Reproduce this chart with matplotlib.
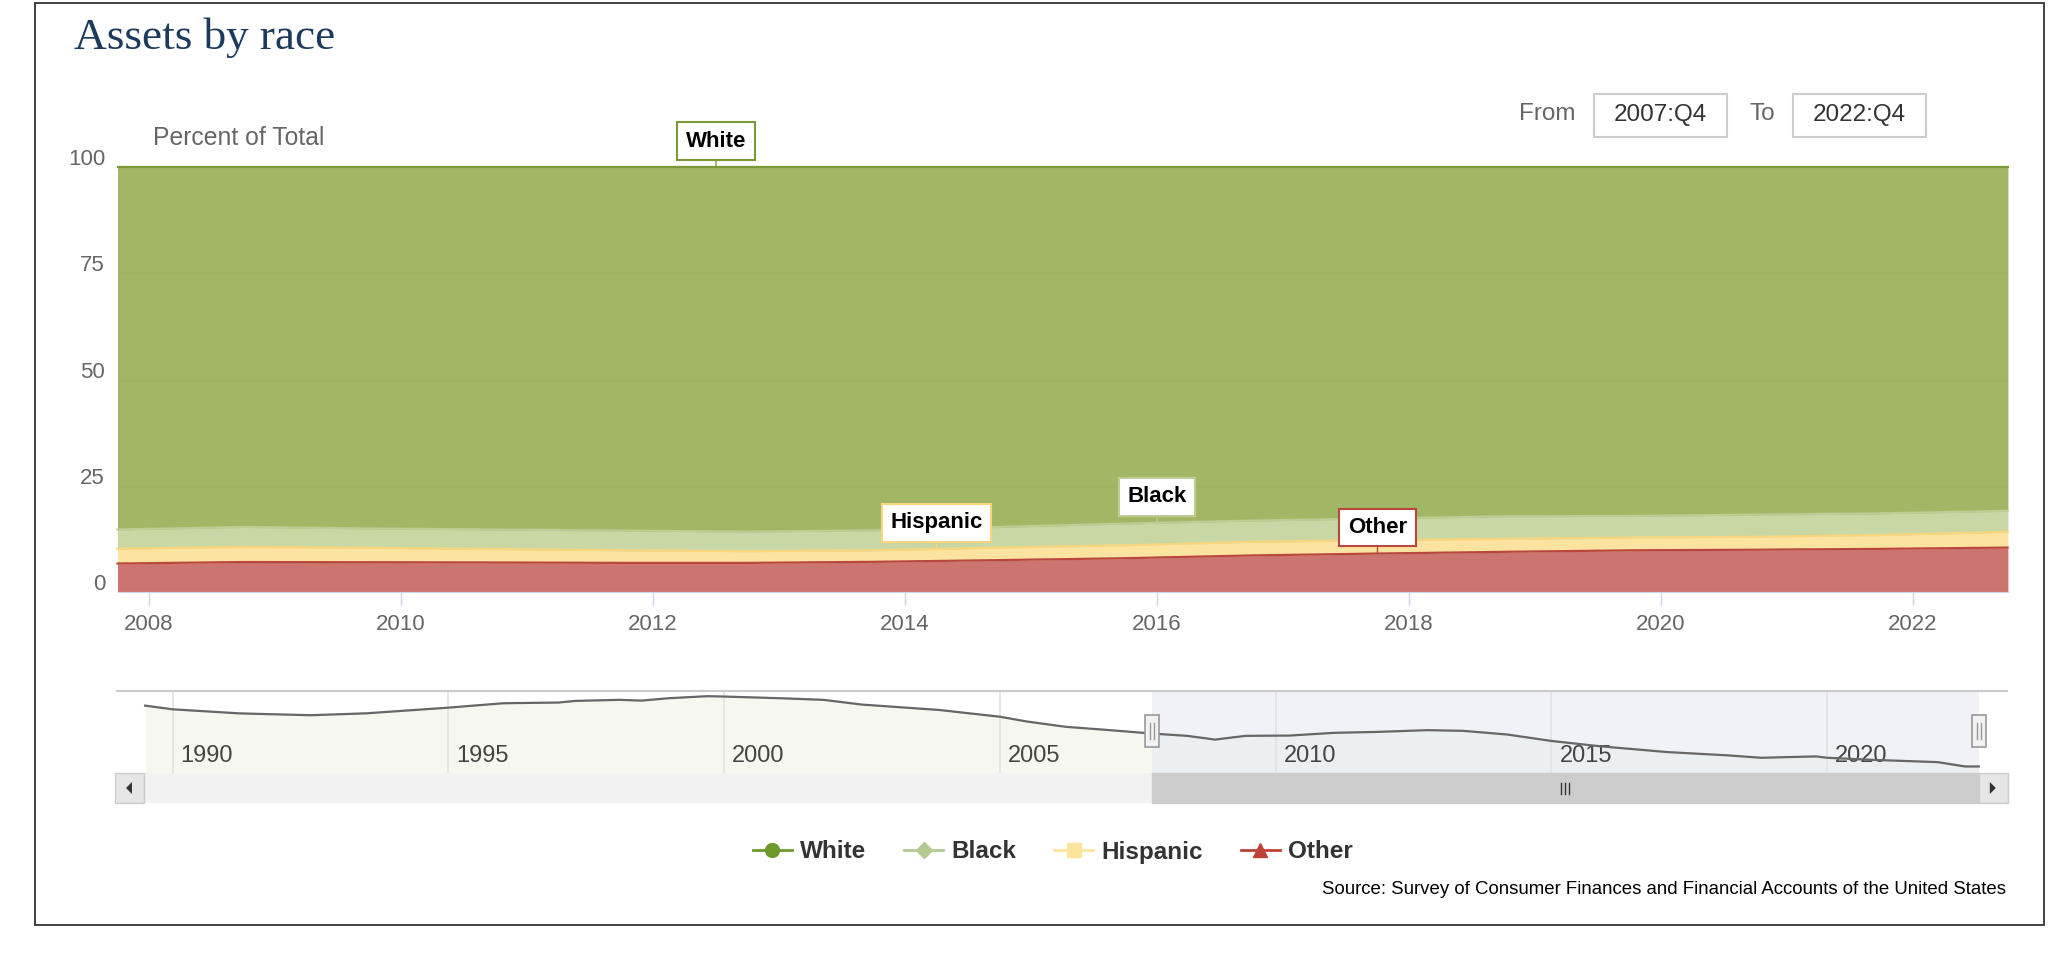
import numpy as np
import matplotlib
matplotlib.use("Agg")
import matplotlib.pyplot as plt
from matplotlib.patches import Rectangle, Polygon
from matplotlib.lines import Line2D

# ---- data (percent of total assets, quarter dates as decimal years) ----
dates = [2007.75, 2008.75, 2009.75, 2010.75, 2011.75, 2012.75, 2013.75, 2014.75,
         2015.75, 2016.75, 2017.75, 2018.75, 2019.75, 2020.75, 2021.75, 2022.75]
white = [85.3, 84.7, 85.05, 85.3, 85.55, 85.8, 85.5, 84.7,
         83.9, 83.2, 82.7, 82.2, 82.1, 81.8, 81.5, 80.9]
black = [4.5, 4.7, 4.55, 4.6, 4.65, 4.6, 4.7, 4.85,
         5.1, 5.0, 5.1, 5.3, 5.1, 5.2, 5.1, 4.95]
hispanic = [3.5, 3.55, 3.4, 3.15, 2.95, 2.75, 2.7, 2.95,
            3.05, 3.2, 3.15, 3.05, 3.0, 3.05, 3.25, 3.7]
other = [6.7, 7.05, 7.0, 6.95, 6.85, 6.85, 7.1, 7.5,
         7.95, 8.6, 9.05, 9.45, 9.8, 9.95, 10.15, 10.45]

# navigator series (White share, full history)
nav_dates = [1989.5, 1990.0, 1991.2, 1992.5, 1993.5, 1995.0, 1996.0, 1997.0, 1997.3,
             1998.1, 1998.5, 1999.0, 1999.7, 2000.0, 2001.0, 2001.8, 2002.5, 2003.9,
             2005.0, 2005.5, 2006.2, 2007.0, 2007.75, 2008.4, 2008.9, 2009.45, 2010.25,
             2011.05, 2011.85, 2012.75, 2013.4, 2014.2, 2015.0, 2015.9, 2017.1, 2018.2,
             2018.8, 2019.8, 2020.0, 2020.8, 2022.0, 2022.5, 2022.75]
nav_white = [89.03, 88.54, 88.0, 87.75, 88.0, 88.76, 89.35, 89.44, 89.66,
             89.8, 89.7, 90.02, 90.29, 90.24, 90.02, 89.8, 89.17, 88.45,
             87.55, 86.9, 86.2, 85.76, 85.31, 85.0, 84.5, 85.0, 85.04,
             85.4, 85.53, 85.76, 85.67, 85.18, 84.32, 83.6, 82.84, 82.4,
             82.08, 82.26, 82.08, 81.81, 81.5, 80.92, 80.92]

names = ["Other", "Hispanic", "Black", "White"]
fills = ["#cc7470", "#fde3a0", "#c9d7a5", "#a2b765"]
edges = ["#b9473f", "#f8d67e", "#bccd95", "#7a9836"]
legend_colors = {"White": "#6e9a2c", "Black": "#b5c993", "Hispanic": "#fde49c", "Other": "#c0413a"}
legend_markers = {"White": "o", "Black": "D", "Hispanic": "s", "Other": "^"}
label_points = {"White": 2012.5, "Hispanic": 2014.25, "Black": 2016.0, "Other": 2017.75}

W, H = 2048, 960
plt.rcParams["font.family"] = ["Liberation Sans", "DejaVu Sans"]


def frac_box(x0, y0, x1, y1):
    return [x0 / W, 1 - y1 / H, (x1 - x0) / W, (y1 - y0) / H]


fig = plt.figure(figsize=(W / 100, H / 100), dpi=100)

# overlay in pixel coordinates for the page chrome
ui = fig.add_axes([0, 0, 1, 1])
ui.set_xlim(0, W)
ui.set_ylim(H, 0)
ui.axis("off")
ui.add_patch(Rectangle((35, 3), 2009, 922, fill=False, ec="#333333", lw=1.3))
ui.text(74, 38, "Assets by race", fontfamily="Liberation Serif", fontsize=32.5,
        color="#1c3a5e", va="center", ha="left")
ui.text(153, 138, "Percent of Total", fontsize=17.8, color="#666666", va="center")

ui.text(1519, 114, "From", fontsize=17.5, color="#666666", va="center")
ui.add_patch(Rectangle((1594, 94), 133, 43, fc="white", ec="#cccccc", lw=1.5))
ui.text(1660.5, 115, "2007:Q4", fontsize=17.5, color="#333333", va="center", ha="center")
ui.text(1750, 114, "To", fontsize=17.5, color="#666666", va="center")
ui.add_patch(Rectangle((1793, 94), 133, 43, fc="white", ec="#cccccc", lw=1.5))
ui.text(1859.5, 115, "2022:Q4", fontsize=17.5, color="#333333", va="center", ha="center")

# ---- main stacked area chart ----
ax = fig.add_axes(frac_box(117.5, 167, 2007.5, 592))
vals = np.vstack([other, hispanic, black, white])
shares = vals / vals.sum(axis=0) * 100
tops = np.cumsum(shares, axis=0)
base = np.zeros(len(dates))
for top, fc, ec in zip(tops, fills, edges):
    ax.fill_between(dates, base, top, color=fc, lw=0.6, ec=fc, zorder=1)
    ax.plot(dates, top, color=ec, lw=1.6, zorder=4, clip_on=False)
    base = top

for yv in (25, 50, 75):
    ax.axhline(yv, color="black", alpha=0.025, lw=2, zorder=2)

ax.set_xlim(2007.75, 2022.75)
ax.set_ylim(0, 100)
ax.set_xticks(range(2008, 2023, 2))
ax.set_yticks([0, 25, 50, 75, 100])
for s in ("top", "right", "left"):
    ax.spines[s].set_visible(False)
ax.spines["bottom"].set_color("#ccd6eb")
ax.tick_params(axis="x", length=9, color="#ccd6eb", width=1, pad=7,
               labelsize=16, labelcolor="#666666")
ax.tick_params(axis="y", length=0, pad=9, labelsize=16, labelcolor="#666666")
for lab in ax.get_yticklabels():
    lab.set_transform(lab.get_transform() +
                      matplotlib.transforms.ScaledTranslation(0, 0.10, fig.dpi_scale_trans))

for name, xv in label_points.items():
    i = names.index(name)
    yv = np.interp(xv, dates, tops[i])
    ax.annotate(name, xy=(xv, yv), xytext=(0, 26), textcoords="offset pixels",
                ha="center", va="center", fontsize=16, fontweight="bold", color="black",
                bbox=dict(boxstyle="square,pad=0.38", fc="white", ec=edges[i], lw=1.5),
                arrowprops=dict(arrowstyle="-", color=edges[i], lw=1, shrinkA=0, shrinkB=0),
                zorder=6, annotation_clip=False)

# ---- navigator ----
nav = fig.add_axes(frac_box(117.5, 691, 2007.5, 773))
nav.set_xlim(1989.0, 2023.27)
nav.set_ylim(80.05, 90.98)
nav.fill_between(nav_dates, nav_white, 80.05, color="#f6f7ef", lw=0, zorder=1)
nav.axvspan(2007.75, 2022.75, color="#e4e9f3", alpha=0.55, lw=0, zorder=2)
for yr in range(1990, 2021, 5):
    nav.axvline(yr, color="#e2e2e2", lw=1.2, zorder=2.5)
    nav.annotate(str(yr), xy=(yr, 0), xycoords=("data", "axes fraction"),
                 xytext=(8, 17), textcoords="offset pixels", va="center", ha="left",
                 fontsize=17, color="#444444", zorder=3)
nav.plot(nav_dates, nav_white, color="#666666", lw=1.6, zorder=4)
nav.set_xticks([])
nav.set_yticks([])
for s in ("bottom", "right", "left"):
    nav.spines[s].set_visible(False)
nav.spines["top"].set_color("#cccccc")
nav.spines["top"].set_linewidth(1.5)

# pixel positions of the selected range
x_from = nav.transData.transform((2007.75, 85))[0]
x_to = nav.transData.transform((2022.75, 85))[0]

# scrollbar
ui.add_patch(Rectangle((115, 773), 1892, 30, fc="#f2f2f2", ec="none", zorder=1))
ui.add_patch(Rectangle((x_from, 773), x_to - x_from, 30, fc="#cccccc", ec="#cccccc", zorder=2))
for bx in (115, x_to):
    ui.add_patch(Rectangle((bx, 773), 29, 30, fc="#e6e6e6", ec="#cccccc", lw=1, zorder=3))
ui.add_patch(Polygon([(126, 788), (132, 782), (132, 794)], closed=True, fc="#333333", zorder=4))
ui.add_patch(Polygon([(x_to + 17, 788), (x_to + 11, 782), (x_to + 11, 794)], closed=True,
                     fc="#333333", zorder=4))
grip = (x_from + x_to) / 2
for dx in (-4, 0, 4):
    ui.plot([grip + dx, grip + dx], [783, 794], color="#333333", lw=1, zorder=4)

# navigator handles
for hx in (x_from, x_to):
    ui.add_patch(Rectangle((hx - 7, 715), 14, 32, fc="#f2f2f2", ec="#999999", lw=1.2, zorder=5))
    for dx in (-2, 2):
        ui.plot([hx + dx, hx + dx], [723, 739], color="#999999", lw=1, zorder=6)
ui.set_zorder(3)
ui.patch.set_visible(False)

# ---- legend ----
handles = []
for name in ["White", "Black", "Hispanic", "Other"]:
    handles.append(Line2D([], [], color=legend_colors[name], marker=legend_markers[name],
                          markersize=10 if name != "Black" else 8, lw=2))
ui.legend(handles, ["White", "Black", "Hispanic", "Other"], loc="center",
          bbox_to_anchor=(1053 / W, 1 - 852 / H), bbox_transform=fig.transFigure,
          ncol=4, frameon=False, prop={"weight": "bold", "size": 17.5},
          handlelength=1.6, handletextpad=0.35, columnspacing=1.55, labelcolor="#333333")

ui.text(2006, 889, "Source: Survey of Consumer Finances and Financial Accounts of the United States",
        fontsize=13.4, color="black", ha="right", va="center")

fig.savefig("out.png", dpi=100, facecolor="white")
